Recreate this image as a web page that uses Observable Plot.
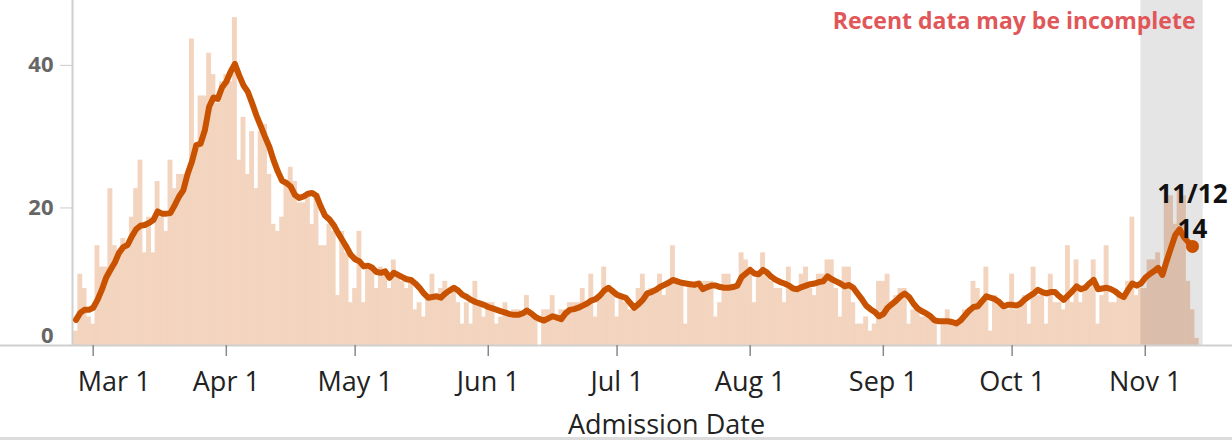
<!DOCTYPE html>
<html><head><meta charset="utf-8">
<script src="https://cdn.jsdelivr.net/npm/d3@7"></script>
<script src="https://cdn.jsdelivr.net/npm/@observablehq/plot@0.6"></script>
<style>
html,body{margin:0;padding:0;background:#fff;overflow:hidden;}
#chart{width:1232px;height:437px;}
#rule{width:1232px;height:3px;background:#dcdcdc;}
</style></head>
<body><div id="chart"></div><div id="rule"></div>
<script>
// Daily admissions (bars), month by month
const monthStarts = ["2020-02-26","2020-03-01","2020-04-01","2020-05-01","2020-06-01","2020-07-01","2020-08-01","2020-09-01","2020-10-01","2020-11-01"];
const barsFeb = [2, 10, 8, 4];
const barsMar = [3, 14, 11, 11, 22, 14, 13, 15, 14, 18, 22, 26, 13, 18, 13, 23, 18, 16, 26, 22, 24, 24, 24, 43, 28, 35, 35, 41, 38, 34, 37];
const barsApr = [38, 37, 46, 26, 32, 24, 30, 22, 30, 31, 24, 17, 16, 18, 23, 25, 23, 20, 20, 21, 17, 21, 14, 14, 17, 16, 7, 16, 13, 6];
const barsMay = [8, 16, 6, 11, 11, 8, 11, 10, 8, 12, 10, 9, 8, 9, 5, 6, 4, 7, 10, 7, 8, 9, 7, 8, 6, 3, 6, 3, 9, 6, 4];
const barsJun = [6, 6, 3, 4, 6, 4, 5, 5, 4, 7, 4, 4, 0, 5, 5, 7, 4, 5, 5, 6, 6, 6, 8, 6, 10, 4, 7, 11, 8, 8];
const barsJul = [4, 7, 6, 5, 5, 8, 10, 7, 8, 8, 10, 7, 9, 14, 9, 9, 3, 9, 9, 9, 9, 9, 9, 4, 6, 10, 10, 8, 8, 13, 12];
const barsAug = [11, 6, 10, 13, 10, 9, 8, 8, 6, 11, 8, 8, 10, 11, 8, 7, 10, 10, 12, 12, 8, 4, 11, 11, 6, 3, 3, 4, 2, 3, 9];
const barsSep = [9, 10, 6, 7, 8, 8, 3, 5, 5, 4, 4, 4, 3, 0, 3, 5, 3, 3, 3, 5, 5, 9, 8, 6, 11, 2, 7, 6, 5, 5];
const barsOct = [10, 5, 6, 7, 3, 11, 7, 7, 3, 10, 6, 6, 5, 14, 6, 12, 6, 8, 8, 12, 3, 7, 14, 6, 6, 7, 7, 9, 18, 7, 8];
const barsNov = [8, 12, 12, 13, 10, 20, 21, 17, 22, 21, 9, 5, 1];

// 7-day average (line), month by month
const avgFeb = [3.6, 4.6, 5.0, 5.0];
const avgMar = [5.3, 6.4, 7.8, 9.5, 10.6, 11.6, 13.0, 13.8, 14.1, 15.3, 16.3, 16.8, 16.9, 17.2, 17.6, 18.8, 18.5, 18.5, 18.6, 19.7, 20.9, 21.8, 24.1, 25.8, 28.1, 28.3, 30.2, 33.5, 34.8, 34.6, 36.2];
const avgApr = [37.0, 38.4, 39.5, 37.9, 36.5, 35.6, 34.0, 32.3, 30.8, 29.3, 27.9, 26.0, 24.4, 23.1, 22.8, 22.3, 21.1, 20.7, 20.9, 21.3, 21.4, 21.0, 19.5, 18.2, 17.7, 16.9, 15.8, 14.8, 13.8, 12.7];
const avgMay = [12.1, 11.8, 11.1, 11.2, 10.9, 10.3, 10.2, 10.4, 9.5, 10.2, 9.9, 9.6, 9.3, 9.2, 8.7, 8.1, 7.3, 6.7, 6.8, 6.9, 6.7, 7.3, 7.7, 8.1, 7.7, 7.1, 6.8, 6.4, 6.1, 5.9, 5.7];
const avgJun = [5.4, 5.2, 5.0, 4.8, 4.6, 4.4, 4.3, 4.3, 4.5, 4.9, 4.5, 4.0, 3.7, 3.5, 3.8, 4.1, 3.9, 3.7, 4.5, 5.0, 5.1, 5.3, 5.6, 5.9, 6.3, 6.5, 7.0, 7.7, 8.1, 7.6];
const avgJul = [7.1, 6.9, 6.7, 6.0, 5.3, 5.8, 6.4, 7.3, 7.5, 7.8, 8.2, 8.5, 8.8, 9.2, 9.0, 8.8, 8.7, 8.6, 8.5, 8.7, 7.9, 8.2, 8.4, 8.4, 8.2, 8.1, 8.1, 8.2, 8.4, 9.6, 10.1];
const avgAug = [10.6, 10.1, 10.0, 10.6, 10.2, 9.6, 9.2, 8.9, 8.7, 8.4, 8.0, 7.9, 8.2, 8.4, 8.6, 8.7, 8.9, 9.0, 9.7, 9.3, 9.0, 8.7, 8.3, 8.5, 8.1, 7.3, 6.5, 5.6, 5.1, 4.7, 4.1];
const avgSep = [4.4, 5.3, 5.8, 6.3, 6.9, 7.3, 6.8, 5.9, 5.2, 4.8, 4.5, 4.1, 3.5, 3.4, 3.4, 3.4, 3.3, 3.1, 3.5, 4.2, 4.9, 5.4, 5.5, 6.2, 6.9, 6.7, 6.5, 6.1, 5.5, 5.7];
const avgOct = [5.7, 5.6, 5.9, 6.5, 6.9, 7.3, 7.8, 7.5, 7.3, 7.5, 7.5, 6.9, 6.4, 7.0, 7.6, 8.3, 7.9, 8.1, 8.7, 9.2, 7.9, 8.0, 8.1, 7.9, 7.6, 7.1, 6.8, 7.8, 8.7, 8.4, 8.7];
const avgNov = [9.5, 10.0, 10.4, 10.9, 9.9, 11.9, 13.7, 15.5, 16.3, 15.2, 14.5, 13.9];

const xTickDates = ["2020-03-01","2020-04-01","2020-05-01","2020-06-01","2020-07-01","2020-08-01","2020-09-01","2020-10-01","2020-11-01"];
const yTicks = [20, 40];
const incompleteStart = "2020-10-31T00:00Z";
const incompleteEnd = "2020-11-14T12:00Z";
const noteText = "Recent data may be incomplete";
const xLabelText = "Admission Date";

const DAY = 864e5;
const barSeries = [barsFeb, barsMar, barsApr, barsMay, barsJun, barsJul, barsAug, barsSep, barsOct, barsNov];
const avgSeries = [avgFeb, avgMar, avgApr, avgMay, avgJun, avgJul, avgAug, avgSep, avgOct, avgNov];
const bars = [], avg = [];
monthStarts.forEach((s, k) => {
  const t0 = Date.parse(s + "T00:00Z");
  barSeries[k].forEach((v, i) => bars.push({date: new Date(t0 + i * DAY), value: v}));
  avgSeries[k].forEach((v, i) => avg.push({date: new Date(t0 + i * DAY), value: v}));
});
const last = avg[avg.length - 1];
const band = {start: new Date(incompleteStart), end: new Date(incompleteEnd)};
const xTicks = xTickDates.map(s => new Date(s + "T00:00Z"));
const xStart = new Date(Date.UTC(2020, 1, 25, 4, 18));
const xEnd = new Date(Date.UTC(2020, 10, 21, 7, 41));
const fmtMD = d3.utcFormat("%m/%d");
const fmtTick = d3.utcFormat("%b %-d");
const font = "'Open Sans', sans-serif";
const tickText = {tickSize: 11, tickPadding: 15, fontSize: 27, stroke: "#888", strokeWidth: 1.5, fill: "#222", label: null, tickFormat: fmtTick};

const chart = Plot.plot({
  width: 1232, height: 437,
  marginTop: 0, marginRight: 0, marginBottom: 92, marginLeft: 72,
  style: {fontFamily: font, background: "#fff", overflow: "visible"},
  x: {type: "utc", domain: [xStart, xEnd]},
  y: {domain: [0, 48.4]},
  marks: [
    Plot.rect(bars, {x1: d => new Date(+d.date - DAY / 2), x2: d => new Date(+d.date + DAY / 2), y1: 0, y2: "value", fill: "#f3d4bf", insetLeft: -0.3, insetRight: -0.3}),
    Plot.rect([band], {x1: "start", x2: "end", fill: "#000", fillOpacity: 0.1}),
    Plot.ruleX([xStart], {stroke: "#cfcfcf", strokeWidth: 2}),
    Plot.ruleY([0], {stroke: "#cfcfcf", strokeWidth: 2, insetLeft: -72}),
    Plot.axisX({...tickText, ticks: xTicks.slice(0, 1), tickSize: 0, tickPadding: 26, dx: 21}),
    Plot.axisX({...tickText, ticks: xTicks.slice(0, 1), fill: "none"}),
    Plot.axisX({...tickText, ticks: xTicks.slice(1)}),
    Plot.axisY({ticks: yTicks, tickSize: 12, tickPadding: 7, fontSize: 22, fontWeight: "bold", fill: "#666", stroke: "#ccc", dy: 5, label: null}),
    Plot.axisY({ticks: [0], tickSize: 0, tickPadding: 19, fontSize: 22, fontWeight: "bold", fill: "#666", dy: -10, label: null}),
    Plot.line(avg, {x: "date", y: "value", stroke: "#c85200", strokeWidth: 6, strokeLinejoin: "round", strokeLinecap: "round"}),
    Plot.dot([last], {x: "date", y: "value", r: 6.5, fill: "#c85200"}),
    Plot.text([last], {x: "date", y: "value", text: d => `${fmtMD(d.date)}\n${Math.round(d.value)}`, lineAnchor: "bottom", lineHeight: 1.35, dy: -8, fontSize: 26, fontWeight: "bold", fill: "#111"}),
    Plot.text([noteText], {frameAnchor: "top-right", textAnchor: "end", lineAnchor: "top", dx: -37, dy: 12, fontSize: 23, fontWeight: "bold", fill: "#e15759"}),
    Plot.text([xLabelText], {frameAnchor: "bottom", lineAnchor: "bottom", dx: 14, dy: 88, fontSize: 27, fill: "#222"})
  ]
});
document.getElementById("chart").appendChild(chart);
</script>
</body></html>
